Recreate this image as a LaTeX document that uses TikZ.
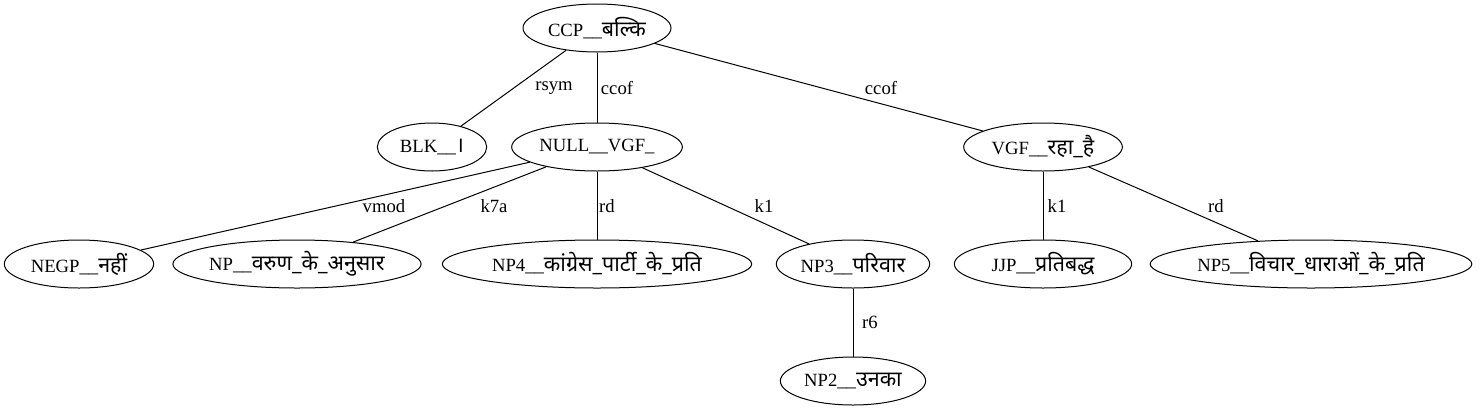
\documentclass[tikz,border=0pt]{standalone}
\usepackage{fontspec}
\setmainfont{Liberation Serif}
\newfontfamily\deva[Script=Devanagari,Scale=1.15]{Noto Sans}
\usepackage{tikz}
\usetikzlibrary{shapes}

\begin{document}
\begin{tikzpicture}[x=0.75pt,y=-0.75pt,font=\fontsize{14pt}{16pt}\selectfont]
    \tikzset{chunk/.style={draw,ellipse,minimum height=36pt,inner sep=0pt,line width=0.75pt,color=black}}
    \tikzstyle{lien}=[line width=0.75pt]
    \tikzstyle{rel}=[inner sep=0pt]
    \useasboundingbox (0,0) rectangle (1480,411);

    \node[chunk,minimum width=111pt] (CCP) at (597,28) {CCP\_\_{\deva बल्कि}};
    \node[chunk,minimum width=82pt] (BLK) at (432,147) {BLK\_\_{\deva ।}};
    \node[chunk,minimum width=128pt] (NULL) at (597,147) {NULL\_\_VGF\_};
    \node[chunk,minimum width=119pt] (VGF) at (1043,147) {VGF\_\_{\deva रहा\_है}};
    \draw[lien] (CCP)--(BLK);
    \draw[lien] (CCP)--(NULL);
    \draw[lien] (CCP)--(VGF);
    \node[rel] (RSYM) at (554,88) {rsym};
    \node[rel] (CCOFA) at (617,88) {ccof};
    \node[rel] (CCOFB) at (881,88) {ccof};

    \node[chunk,minimum width=112pt] (NEGP) at (79,264) {NEGP\_\_{\deva नहीं}};
    \node[chunk,minimum width=179pt] (NPV) at (297,264) {NP\_\_{\deva वरुण\_के\_अनुसार}};
    \node[chunk,minimum width=232pt] (NPF) at (597,264) {NP4\_\_{\deva कांग्रेस\_पार्टी\_के\_प्रति}};
    \node[chunk,minimum width=115pt] (NPP) at (853,264) {NP3\_\_{\deva परिवार}};
    \draw[lien] (NULL)--(NEGP);
    \draw[lien] (NULL)--(NPV);
    \draw[lien] (NULL)--(NPF);
    \draw[lien] (NULL)--(NPP);
    \node[rel] (VMOD) at (384,206) {vmod};
    \node[rel] (KSA) at (494,206) {k7a};
    \node[rel] (RDA) at (607,206) {rd};
    \node[rel] (KUA) at (764,206) {k1};

    \node[chunk,minimum width=133pt] (JJP) at (1043,264) {JJP\_\_{\deva प्रतिबद्ध}};
    \node[chunk,minimum width=236pt] (NPC) at (1311,264) {NP5\_\_{\deva विचार\_धाराओं\_के\_प्रति}};
    \draw[lien] (VGF)--(JJP);
    \draw[lien] (VGF)--(NPC);
    \node[rel] (KUB) at (1057,206) {k1};
    \node[rel] (RDB) at (1216,206) {rd};

    \node[chunk,minimum width=109pt] (NPU) at (853,381) {NP2\_\_{\deva उनका}};
    \draw[lien] (NPP)--(NPU);
    \node[rel] (RSIX) at (870,322) {r6};
\end{tikzpicture}
\end{document}
